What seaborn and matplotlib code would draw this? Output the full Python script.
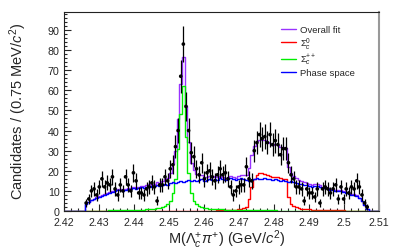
import numpy as np
import seaborn as sns
import matplotlib.pyplot as plt
from matplotlib.ticker import MultipleLocator
from matplotlib.lines import Line2D

# binning: 0.75 MeV bins from 2.42 GeV, contents given from bin 8 onward
lo, width, nbins, first = 2.42, 0.00075, 120, 8

data = [4, 6, 10, 11, 8, 12, 16, 12, 14, 13, 17, 11,
        8, 13, 10, 17, 13, 10, 19, 15, 9, 9,
        8, 11, 12, 14, 12, 5, 13, 13, 17, 15,
        21, 23, 32, 40, 67, 83, 52, 40, 29, 27,
        21, 18, 24, 16, 19, 20, 17, 15, 18, 21,
        18, 19, 16, 12, 8, 10, 12, 13, 13, 22,
        16, 15, 30, 34, 38, 36, 37, 34, 38, 33,
        35, 33, 28, 31, 31, 24, 18, 16, 12, 12,
        11, 5, 11, 9, 9, 7, 11, 4, 11, 12,
        11, 9, 11, 13, 6, 12, 6, 11, 9, 12,
        11, 15, 12, 8, 4, 2]

phase_space = [3.5, 4.5, 5.5, 6, 6.5, 7, 7.5, 8, 8.5, 9, 9.5, 10,
               10.5, 10.5, 10, 10.5, 11, 11, 11.5, 11, 11.5, 12,
               11.5, 12, 12.5, 12, 12.5, 13, 12.5, 13, 13.5, 13,
               14, 14.5, 14, 14.5, 15, 14.5, 15, 15.5, 15, 15.5,
               15, 15.5, 16, 15, 15.5, 16, 15.5, 16, 15.5, 16.5,
               16, 15.5, 16, 16.5, 16, 15.5, 16, 16.5, 16, 15.5,
               15, 15.5, 16, 16.5, 16, 16, 16.5, 16, 16, 15.5,
               16, 15.5, 15, 15.5, 15, 14.5, 15, 14.5, 14, 13.5,
               13.5, 13, 13, 12.5, 12, 12.5, 12.5, 12, 11.5, 11.5,
               11, 10.5, 10.5, 10, 10, 10, 9.5, 9, 8.5, 8,
               8, 7.5, 6.5, 5, 3, 1]

sigma_c0 = [0.02] * 12 + [0.03] * 10 + [0.04] * 10 + [0.05] * 10 + \
           [0.1, 0.1, 0.15, 0.15, 0.2, 0.2, 0.25, 0.25, 0.3, 0.3,
            0.35, 0.4, 0.45, 0.5, 0.55, 0.6, 0.8, 1.0, 1.3, 2.0,
            6, 12, 16, 18, 19, 19, 18.5, 18, 17.5, 17,
            17, 17, 16.5, 16, 16, 7, 3.5, 2.5, 2, 1.5,
            1.2, 1.0, 0.9, 0.8, 0.7, 0.65, 0.6, 0.55, 0.5, 0.45,
            0.4, 0.4, 0.35, 0.35, 0.3, 0.3, 0.3, 0.25, 0.25, 0.2,
            0.2, 0.2, 0.15, 0.1, 0.05, 0.0]

sigma_cpp = [0.1, 0.1, 0.15, 0.15, 0.2, 0.2, 0.2, 0.25, 0.25, 0.3, 0.3, 0.3,
             0.35, 0.35, 0.4, 0.4, 0.45, 0.5, 0.5, 0.55, 0.6, 0.65,
             0.7, 0.8, 0.9, 1.0, 1.1, 1.3, 1.5, 2.0, 2.5, 3.5,
             5, 9, 16, 31, 48, 62, 37, 19, 9, 5,
             3.5, 2.5, 2, 1.6, 1.4, 1.2, 1.1, 1.0, 0.9, 0.85,
             0.8, 0.75, 0.7, 0.65, 0.6, 0.55, 0.5, 0.5, 0.45, 0.45,
             0.4, 0.4, 0.4, 0.35, 0.35, 0.35, 0.3, 0.3, 0.3, 0.3,
             0.3, 0.25, 0.25, 0.25, 0.25, 0.2, 0.2, 0.2, 0.2, 0.2,
             0.2, 0.2, 0.15, 0.15, 0.15, 0.15, 0.15, 0.15, 0.1, 0.1,
             0.1, 0.1, 0.1, 0.1, 0.1, 0.1, 0.1, 0.1, 0.1, 0.1,
             0.1, 0.1, 0.05, 0.05, 0.05, 0.0]

xticks = [2.42, 2.43, 2.44, 2.45, 2.46, 2.47, 2.48, 2.49, 2.5, 2.51]
xticklabels = ["2.42", "2.43", "2.44", "2.45", "2.46", "2.47", "2.48", "2.49", "2.5", "2.51"]
yticks = [0, 10, 20, 30, 40, 50, 60, 70, 80, 90]

colors = {"fit": "#9933ff", "sc0": "#ff0000", "scpp": "#00ee00", "ps": "#0000ff"}


def full(vals):
    arr = np.zeros(nbins)
    arr[first:first + len(vals)] = vals
    return arr


edges = lo + width * np.arange(nbins + 1)
centers = edges[:-1] + width / 2

ps = full(phase_space)
sc0 = full(sigma_c0)
scpp = full(sigma_cpp)
total = ps + sc0 + scpp

sns.set_style("ticks")
plt.rcParams["font.family"] = ["Liberation Sans", "DejaVu Sans"]
plt.rcParams["mathtext.fontset"] = "custom"
plt.rcParams["mathtext.rm"] = "Liberation Sans"
plt.rcParams["mathtext.it"] = "Liberation Sans:italic"
plt.rcParams["mathtext.bf"] = "Liberation Sans:bold"

fig = plt.figure(figsize=(3.99, 2.53), dpi=100)
ax = fig.add_axes([0.160, 0.162, 0.790, 0.787])


def step(vals, color, zorder):
    sns.lineplot(x=edges, y=np.append(vals, vals[-1]), drawstyle="steps-post",
                 estimator=None, sort=False, color=color, lw=1.0, ax=ax, zorder=zorder)


step(total, colors["fit"], 2)
step(sc0, colors["sc0"], 3)
step(scpp, colors["scpp"], 4)
step(ps, colors["ps"], 5)

# data points with poisson errors
dx = centers[first:first + len(data)]
dy = np.array(data, dtype=float)
ax.errorbar(dx, dy, yerr=np.sqrt(dy), fmt="none", ecolor="black", elinewidth=0.9, zorder=6)
sns.scatterplot(x=dx, y=dy, color="black", s=7, edgecolor="none", ax=ax, zorder=7)

ax.set_xlim(2.42, 2.51)
ax.set_ylim(0, 99)
ax.set_xticks(xticks)
ax.set_xticklabels(xticklabels)
ax.set_yticks(yticks)
ax.xaxis.set_minor_locator(MultipleLocator(0.002))
ax.yaxis.set_minor_locator(MultipleLocator(2))
ax.tick_params(which="both", direction="in", labelsize=7.7, top=False, right=False, width=0.8)
ax.tick_params(which="major", length=5)
ax.tick_params(which="minor", length=2.5)
ax.tick_params(axis="x", which="major", pad=4)
ax.tick_params(axis="y", which="major", pad=3)

for side in ["left", "bottom", "top"]:
    ax.spines[side].set_color("#222222")
    ax.spines[side].set_linewidth(0.8)
ax.spines["right"].set_color("#999999")
ax.spines["right"].set_linewidth(1.5)

ax.set_xlabel(r"M($\Lambda_{c}^{+}\pi^{+}$) (GeV/$c^{2}$)", fontsize=10.5)
ax.set_ylabel(r"Candidates / (0.75 MeV/$c^{2}$)", fontsize=10.5)
ax.xaxis.set_label_coords(0.517, -0.082)
ax.yaxis.set_label_coords(-0.112, 0.507)

handles = [Line2D([], [], color=colors[k], lw=1.0) for k in ["fit", "sc0", "scpp", "ps"]]
labels = ["Overall fit", r"$\Sigma_{c}^{0}$", r"$\Sigma_{c}^{++}$", "Phase space"]
ax.legend(handles, labels, loc="upper left", bbox_to_anchor=(0.69, 0.935), frameon=False,
          fontsize=6.8, handlelength=1.6, handletextpad=0.35, labelspacing=0.12,
          borderpad=0, borderaxespad=0)

fig.savefig("out.png", dpi=100)
